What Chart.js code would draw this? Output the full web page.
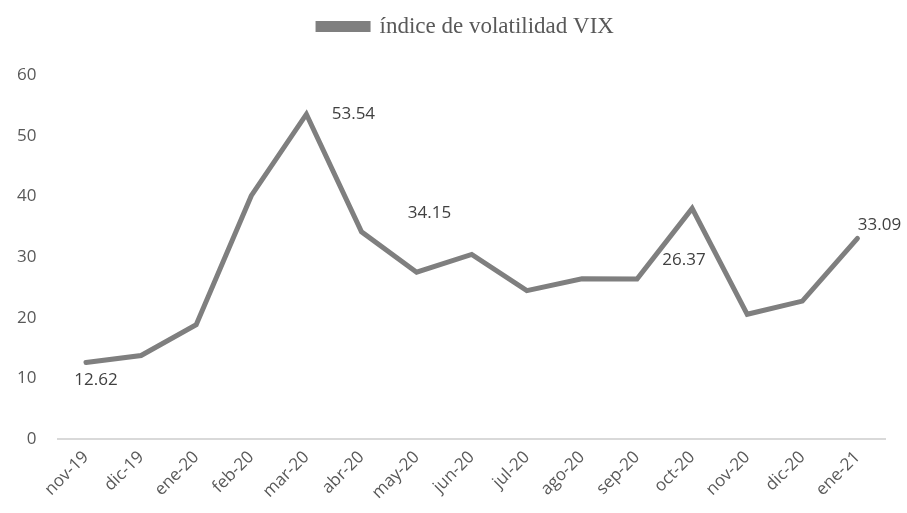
<!DOCTYPE html>
<html lang="es">
<head>
  <meta charset="UTF-8">
  <title>VIX</title>
  <style>
    html, body { margin: 0; padding: 0; background: #fff; }
    .chart-box { width: 907px; height: 513px; }
  </style>
</head>
<body>
  <div class="chart-box">
    <canvas id="chart" width="907" height="513"></canvas>
  </div>
  <script src="https://cdn.jsdelivr.net/npm/chart.js@4/dist/chart.umd.min.js"></script>
  <script>
    const months = ['nov-19', 'dic-19', 'ene-20', 'feb-20', 'mar-20', 'abr-20', 'may-20', 'jun-20',
      'jul-20', 'ago-20', 'sep-20', 'oct-20', 'nov-20', 'dic-20', 'ene-21'];
    const vix = [12.62, 13.78, 18.84, 40.11, 53.54, 34.15, 27.51, 30.43, 24.46, 26.41, 26.37, 38.02, 20.57, 22.75, 33.09];
    const yTicks = [0, 10, 20, 30, 40, 50, 60];
    // which points get a value label, and where it sits relative to the point
    const labelled = [0, 4, 5, 10, 14];
    const labelShift = { 0: [10, 18], 4: [47, 0], 5: [68, -19], 10: [47, -19], 14: [22, -13] };

    const valueLabels = {
      id: 'valueLabels',
      afterDatasetsDraw(chart) {
        const ctx = chart.ctx;
        const pts = chart.getDatasetMeta(0).data;
        ctx.save();
        ctx.font = '17px "Open Sans", sans-serif';
        ctx.fillStyle = '#404040';
        ctx.textAlign = 'center';
        ctx.textBaseline = 'middle';
        labelled.forEach((i) => {
          const [dx, dy] = labelShift[i];
          ctx.fillText(vix[i].toFixed(2), pts[i].x + dx, pts[i].y + dy);
        });
        ctx.restore();
      }
    };

    // more room under the legend, and nudge it right like the original
    const legendTweak = {
      id: 'legendTweak',
      beforeInit(chart) {
        const legend = chart.legend;
        const fit = legend.fit;
        const draw = legend.draw;
        legend.fit = function () {
          fit.call(this);
          this.height += 28;
        };
        legend.draw = function () {
          const ctx = this.ctx;
          ctx.save();
          ctx.translate(26, 1);
          draw.call(this);
          ctx.restore();
        };
      }
    };

    new Chart(document.getElementById('chart'), {
      type: 'line',
      data: {
        labels: months,
        datasets: [{
          label: 'índice de volatilidad VIX',
          data: vix,
          borderColor: '#7f7f7f',
          backgroundColor: '#7f7f7f',
          borderWidth: 5,
          borderJoinStyle: 'miter',
          borderCapStyle: 'round',
          pointRadius: 0,
          tension: 0
        }]
      },
      options: {
        responsive: false,
        animation: false,
        layout: { padding: { top: 2, right: 22, left: -5, bottom: 2 } },
        plugins: {
          tooltip: { enabled: false },
          legend: {
            position: 'top',
            labels: {
              boxWidth: 50,
              boxHeight: 6,
              color: '#595959',
              font: { family: '"Liberation Serif", serif', size: 23 },
              padding: 12
            }
          }
        },
        scales: {
          x: {
            offset: true,
            grid: { display: false, drawTicks: false },
            border: { display: true, color: '#d9d9d9', width: 2 },
            ticks: {
              color: '#595959',
              font: { family: '"Open Sans", sans-serif', size: 17 },
              minRotation: 45,
              maxRotation: 45,
              padding: 8
            }
          },
          y: {
            min: 0,
            max: 60,
            afterBuildTicks(axis) { axis.ticks = yTicks.map((v) => ({ value: v })); },
            grid: { display: false, drawTicks: false },
            border: { display: false },
            ticks: {
              color: '#595959',
              font: { family: '"Open Sans", sans-serif', size: 17 },
              padding: 22
            }
          }
        }
      },
      plugins: [valueLabels, legendTweak]
    });
  </script>
</body>
</html>
